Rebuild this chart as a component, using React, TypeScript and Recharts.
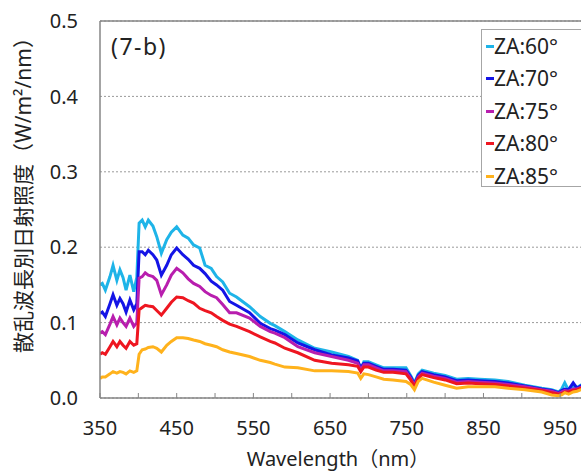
import React from 'react';
import { LineChart, Line, XAxis, YAxis, CartesianGrid, ReferenceLine, Legend } from 'recharts';

const wavelengths = [350,353,357,363,367,372,376,380,384,389,394,398,401,405,409,413,419,424,430,437,443,450,458,465,472,480,487,495,502,510,519,528,545,559,572,578,591,608,630,652,674,686,690,694,700,710,720,732,749,755,760,765,770,785,800,815,830,845,865,882,904,926,939,948,952,956,961,967,972,977,985,1000];

const za60 = [.150,.152,.143,.161,.176,.156,.170,.160,.143,.163,.141,.160,.232,.236,.227,.236,.228,.214,.192,.210,.220,.227,.216,.212,.203,.199,.176,.172,.161,.154,.139,.134,.121,.108,.099,.096,.088,.077,.066,.061,.055,.050,.037,.048,.048,.044,.040,.040,.040,.030,.020,.032,.037,.033,.030,.025,.026,.025,.024,.022,.017,.013,.011,.008,.012,.020,.010,.016,.014,.017,.015,.016];
const za70 = [.112,.114,.108,.125,.137,.123,.132,.125,.114,.130,.117,.125,.194,.194,.190,.196,.190,.183,.163,.176,.190,.199,.190,.184,.176,.172,.165,.155,.150,.143,.128,.123,.113,.099,.092,.090,.084,.073,.064,.057,.053,.049,.040,.046,.046,.042,.038,.038,.037,.028,.018,.030,.035,.031,.028,.023,.024,.023,.022,.020,.016,.012,.010,.007,.010,.012,.011,.020,.013,.016,.014,.015];
const za75 = [.086,.088,.084,.098,.108,.097,.106,.100,.095,.106,.095,.100,.159,.161,.166,.163,.161,.156,.137,.150,.163,.172,.166,.158,.152,.148,.141,.136,.133,.124,.113,.113,.106,.095,.088,.086,.080,.068,.060,.055,.050,.046,.037,.044,.044,.040,.036,.036,.035,.026,.017,.028,.033,.029,.026,.021,.022,.021,.020,.018,.015,.011,.009,.006,.008,.010,.009,.012,.012,.014,.013,.014];
const za80 = [.058,.060,.058,.068,.075,.068,.075,.070,.066,.075,.070,.072,.117,.120,.123,.122,.121,.116,.110,.119,.127,.134,.133,.129,.126,.119,.116,.113,.108,.103,.098,.095,.088,.081,.075,.073,.066,.060,.050,.046,.044,.042,.035,.041,.041,.037,.034,.034,.032,.024,.015,.026,.031,.027,.024,.019,.020,.019,.018,.016,.013,.010,.007,.005,.006,.008,.008,.010,.011,.013,.012,.013];
const za85 = [.026,.028,.028,.032,.035,.033,.035,.034,.032,.036,.034,.036,.058,.064,.065,.067,.068,.066,.061,.070,.075,.080,.080,.079,.077,.075,.072,.070,.068,.064,.061,.059,.055,.050,.047,.045,.041,.040,.036,.036,.035,.033,.026,.032,.031,.028,.025,.024,.022,.018,.011,.022,.026,.021,.017,.013,.015,.015,.015,.013,.011,.008,.004,.003,.004,.007,.005,.008,.009,.011,.010,.011];

const seriesNames = ['ZA:60°', 'ZA:70°', 'ZA:75°', 'ZA:80°', 'ZA:85°'];
const seriesKeys = ['za60', 'za70', 'za75', 'za80', 'za85'];
const seriesColors = ['#1EB4E8', '#1414E6', '#B81EAE', '#EE1620', '#FFB21C'];
const seriesValues = [za60, za70, za75, za80, za85];

const xTicks = [350,400,450,500,550,600,650,700,750,800,850,900,950,1000];
const xLabelTicks = [350,450,550,650,750,850,950];
const yTicks = [0, 0.1, 0.2, 0.3, 0.4, 0.5];

const panelLabel = '(7-b)';
const xTitle = 'Wavelength（nm）';
const yTitle = '散乱波長別日射照度（W/m²/nm）';

const data = wavelengths.map((w, i) => {
  const row: any = { wl: w };
  seriesKeys.forEach((k, j) => { row[k] = seriesValues[j][i]; });
  return row;
});

const FONT = '"Noto Sans", "Noto Sans CJK JP", sans-serif';
const AXIS = '#868686';

const XTick = (props: any) => {
  const { x, y, payload } = props;
  const v = payload.value;
  return (
    <g>
      <line x1={x} x2={x} y1={y} y2={y - 5} stroke={AXIS} strokeWidth={1} />
      {xLabelTicks.includes(v) && (
        <text x={x} y={y + 30} dy="0.355em" textAnchor="middle" fill="#222" fontSize={20} fontFamily={FONT}>{v}</text>
      )}
    </g>
  );
};

const YTitle = () => (
  <text transform="translate(23,190) rotate(-90)" textAnchor="middle" dominantBaseline="central" fill="#222" fontSize={21} fontFamily={FONT}>{yTitle}</text>
);

const XTitle = () => (
  <text x={338} y={466} textAnchor="middle" fill="#222" fontSize={20} fontFamily={FONT}>{xTitle}</text>
);

const PanelLabel = () => (
  <text x={111} y={46} dominantBaseline="central" fill="#222" fontSize={23} letterSpacing={1.5} fontFamily={FONT}>{panelLabel}</text>
);

const LegendBox = () => (
  <div style={{ border: '1px solid #a6a6a6', background: '#fff', width: 130, height: 158, boxSizing: 'border-box', fontFamily: FONT, fontSize: 21, color: '#222' }}>
    {seriesNames.map((n, i) => (
      <div key={n} style={{ height: 32.5, display: 'flex', alignItems: 'center', lineHeight: 1 }}>
        <span style={{ display: 'inline-block', width: 8, height: 3, background: seriesColors[i], marginLeft: 4, marginRight: 0 }} />
        <span>{n}</span>
      </div>
    ))}
  </div>
);

export default function App() {
  return (
    <div style={{ position: 'fixed', left: 0, top: 0, width: 581, height: 471, overflow: 'hidden', background: '#fff' }}>
      <LineChart width={620} height={471} data={data} margin={{ top: 21, right: 21.5, left: 0, bottom: 0 }}>
        <CartesianGrid vertical={false} stroke="#9a9a9a" strokeDasharray="2 2" />
        <XAxis dataKey="wl" type="number" domain={[350, 1000]} ticks={xTicks} allowDataOverflow
          height={73} tickLine={false} tickSize={0} tickMargin={0} tick={<XTick />}
          axisLine={{ stroke: AXIS, strokeWidth: 1.5 }} interval={0} label={<XTitle />} />
        <YAxis type="number" domain={[0, 0.5]} ticks={yTicks} width={100} tickLine={false} tickSize={0} tickMargin={22}
          tickFormatter={(v: number) => v.toFixed(1)} tick={{ fill: '#222', fontSize: 20, fontFamily: FONT }}
          axisLine={{ stroke: AXIS, strokeWidth: 1.5 }} interval={0} label={<YTitle />} />
        <ReferenceLine y={0.5} stroke={AXIS} strokeWidth={1.5} label={<PanelLabel />} />
        {seriesKeys.map((k, i) => (
          <Line key={k} type="linear" dataKey={k} name={seriesNames[i]} stroke={seriesColors[i]} strokeWidth={3}
            dot={false} isAnimationActive={false} />
        ))}
        <Legend layout="vertical" align="center" verticalAlign="middle" content={<LegendBox />}
          wrapperStyle={{ left: 481, top: 29, width: 130, height: 158 }} />
      </LineChart>
    </div>
  );
}
